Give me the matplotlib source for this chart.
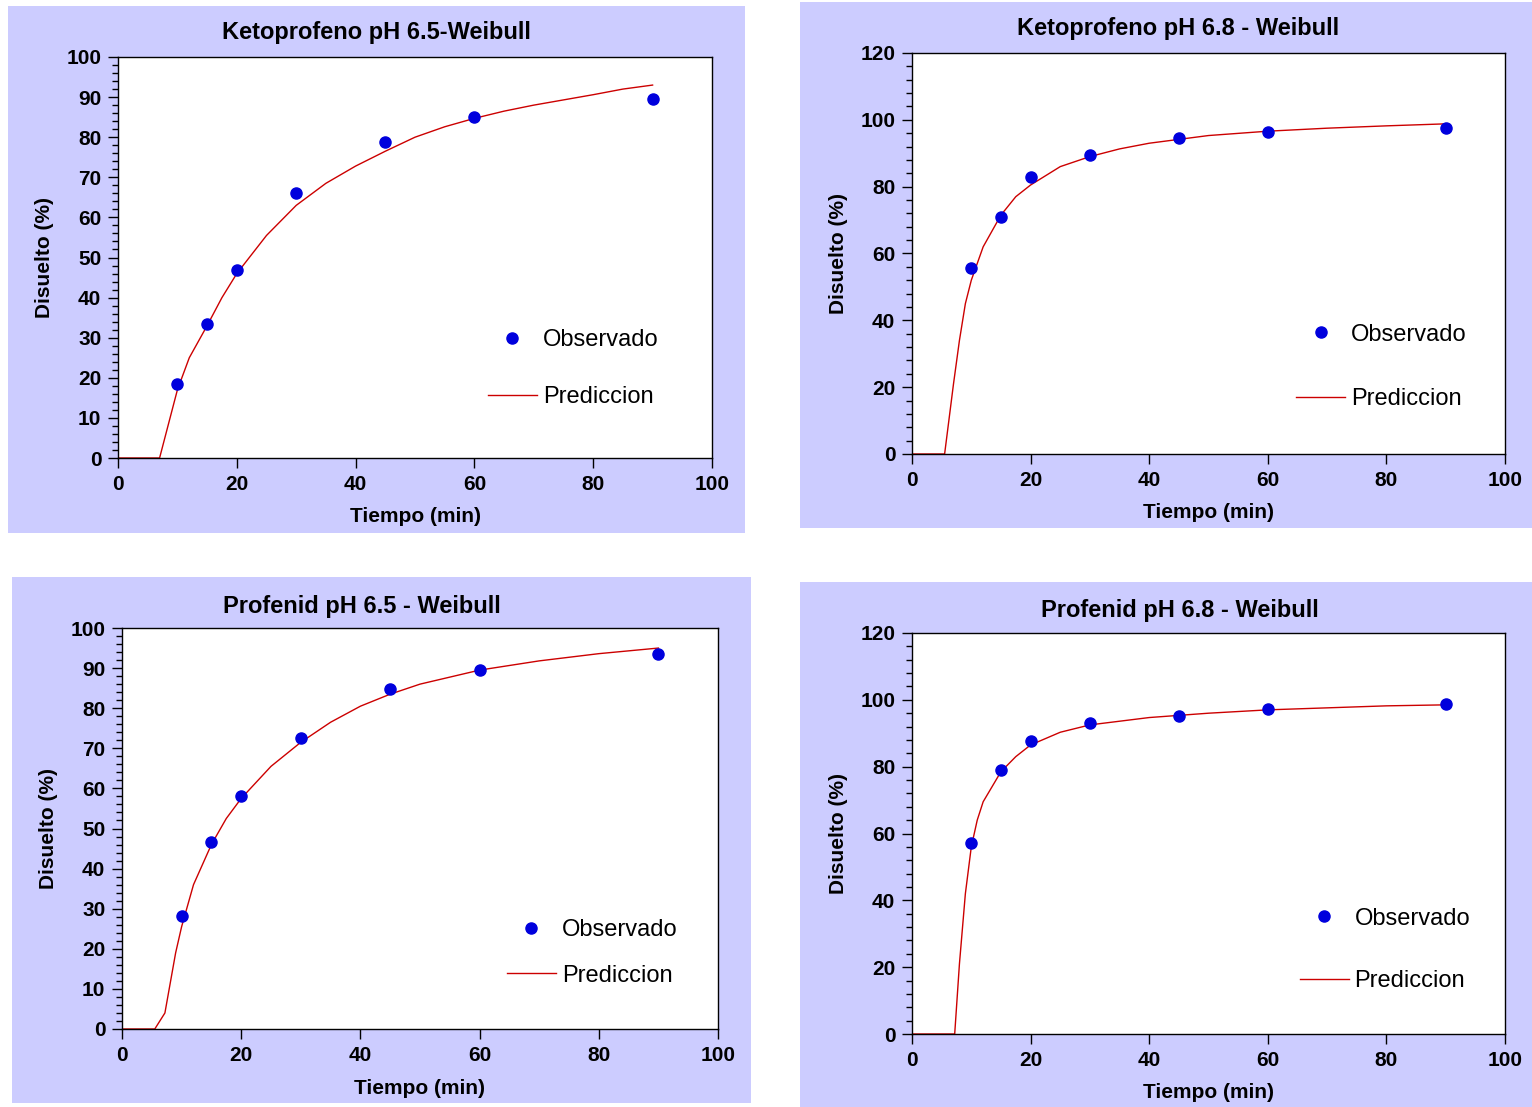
import matplotlib.pyplot as plt
from matplotlib.patches import Rectangle
from matplotlib.ticker import MultipleLocator

plt.rcParams['font.family'] = ['Liberation Sans', 'DejaVu Sans']

# Datos observados (tiempo en min, % disuelto)
t_obs = [10, 15, 20, 30, 45, 60, 90]
keto65_obs = [18.5, 33.5, 47.0, 66.0, 78.7, 85.0, 89.5]
keto68_obs = [55.7, 70.9, 82.9, 89.5, 94.6, 96.3, 97.5]
prof65_obs = [28.2, 46.6, 58.1, 72.6, 84.8, 89.5, 93.5]
prof68_obs = [57.2, 79.0, 87.7, 93.1, 95.2, 97.2, 98.7]

# Curvas de prediccion (Weibull)
keto65_t = [0, 7, 10, 12, 15, 17.5, 20, 25, 30, 35, 40, 45, 50, 55, 60, 65, 70, 75, 80, 85, 90]
keto65_p = [0, 0, 17, 25, 33, 40, 46, 55.5, 63, 68.5, 72.8, 76.5, 80, 82.6, 84.7, 86.5, 88, 89.3, 90.6, 92, 93]

keto68_t = [0, 5.5, 7, 8, 9, 10, 12, 15, 17.5, 20, 25, 30, 35, 40, 50, 60, 70, 80, 90]
keto68_p = [0, 0, 21, 34, 45, 52, 62, 71.5, 77, 80.5, 86, 89, 91.3, 93, 95.3, 96.6, 97.5, 98.2, 98.8]

prof65_t = [0, 5.5, 7.2, 9, 10, 12, 15, 17.5, 20, 25, 30, 35, 40, 45, 50, 60, 70, 80, 90]
prof65_p = [0, 0, 4, 19, 25.5, 36, 46, 52.5, 57.5, 65.5, 71.5, 76.5, 80.5, 83.5, 86, 89.5, 91.8, 93.6, 95]

prof68_t = [0, 7.2, 8, 9, 10, 11, 12, 15, 17.5, 20, 25, 30, 40, 50, 60, 70, 80, 90]
prof68_p = [0, 0, 21, 42, 56, 64, 69.5, 78.5, 83, 86.5, 90.3, 92.5, 94.7, 96, 97, 97.6, 98.2, 98.5]

titles = ["Ketoprofeno pH 6.5-Weibull", "Ketoprofeno pH 6.8 - Weibull",
          "Profenid pH 6.5 - Weibull", "Profenid pH 6.8 - Weibull"]

W, H = 1532, 1107
fig = plt.figure(figsize=(W / 100, H / 100), dpi=100)
fig.patch.set_facecolor('white')

# layout en pixeles: fondo (x0, y0, x1, y1), ejes (x0, y0, x1, y1), titulo (x, y)
panels = [
    dict(bg=(8, 6, 745, 533), ax=(118, 57, 712, 458), title=(376, 33), ymax=100,
         obs=keto65_obs, pt=keto65_t, pp=keto65_p, leg=(0.623, 0.223), lsp=1.5),
    dict(bg=(800, 2, 1532, 528), ax=(912, 53, 1505, 454), title=(1178, 29), ymax=120,
         obs=keto68_obs, pt=keto68_t, pp=keto68_p, leg=(0.648, 0.217), lsp=1.8),
    dict(bg=(12, 577, 751, 1103), ax=(122, 628, 718, 1029), title=(362, 607), ymax=100,
         obs=prof65_obs, pt=prof65_t, pp=prof65_p, leg=(0.646, 0.19), lsp=1.0),
    dict(bg=(800, 582, 1532, 1107), ax=(912, 633, 1505, 1034), title=(1180, 611), ymax=120,
         obs=prof68_obs, pt=prof68_t, pp=prof68_p, leg=(0.654, 0.21), lsp=1.71),
]

for p, title in zip(panels, titles):
    x0, y0, x1, y1 = p['bg']
    fig.add_artist(Rectangle((x0 / W, 1 - y1 / H), (x1 - x0) / W, (y1 - y0) / H,
                             transform=fig.transFigure, facecolor='#CCCCFF',
                             edgecolor='none', zorder=0))
    ax0, ay0, ax1, ay1 = p['ax']
    ax = fig.add_axes([ax0 / W, 1 - ay1 / H, (ax1 - ax0) / W, (ay1 - ay0) / H])
    ax.set_facecolor('white')

    ax.plot(p['pt'], p['pp'], color='#CC0000', lw=1.0, label='Prediccion', zorder=2)
    ax.plot(t_obs, p['obs'], 'o', color='#0000DD', ms=8, label='Observado', zorder=3)

    ax.set_xlim(0, 100)
    ax.set_ylim(0, p['ymax'])
    ax.xaxis.set_major_locator(MultipleLocator(20))
    if p['ymax'] == 100:
        ax.yaxis.set_major_locator(MultipleLocator(10))
        ax.yaxis.set_minor_locator(MultipleLocator(2))
    else:
        ax.yaxis.set_major_locator(MultipleLocator(20))
        ax.yaxis.set_minor_locator(MultipleLocator(4))
    ax.tick_params(axis='both', which='major', length=7, width=1, labelsize=15, pad=5)
    ax.tick_params(axis='y', which='minor', length=4.5, width=1)
    for lab in ax.get_xticklabels() + ax.get_yticklabels():
        lab.set_fontweight('bold')
    for s in ax.spines.values():
        s.set_linewidth(1)

    ax.set_xlabel('Tiempo (min)', fontsize=15, fontweight='bold')
    ax.xaxis.set_label_coords(0.5, -59 / (ay1 - ay0))
    ax.xaxis.label.set_verticalalignment('center')
    ax.set_ylabel('Disuelto (%)', fontsize=15, fontweight='bold')
    ax.yaxis.set_label_coords(-73 / (ax1 - ax0), 0.5)
    ax.yaxis.label.set_verticalalignment('center')

    fig.text(p['title'][0] / W, 1 - p['title'][1] / H, title, ha='center', va='center',
             fontsize=17, fontweight='bold')

    h, l = ax.get_legend_handles_labels()
    ax.legend(h[::-1], l[::-1], loc='center left', bbox_to_anchor=p['leg'],
              frameon=False, fontsize=17, handlelength=2.07, handletextpad=0.25,
              labelspacing=p['lsp'], borderpad=0, borderaxespad=0)

fig.savefig('out.png', dpi=100, facecolor='white')
